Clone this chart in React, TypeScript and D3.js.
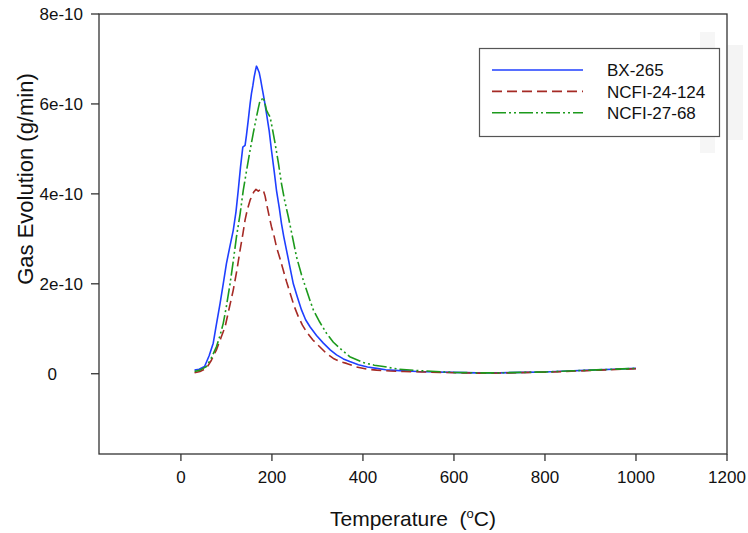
import React from 'react';
import * as d3 from 'd3';

// values are in units of 1e-10 g/min
const UNIT = 1e-10;

const seriesNames = ['BX-265', 'NCFI-24-124', 'NCFI-27-68'];

const bxTemp = [30, 40, 52, 62, 71, 78, 86, 93, 100, 108, 115, 121, 126, 131, 136, 141, 144, 148, 152, 155, 158, 161, 164, 166, 168, 170, 172, 175, 178, 183, 188, 194, 199, 205, 210, 216, 221, 226, 232, 240, 247, 256, 265, 274, 284, 298, 313, 328, 342, 357, 371, 390, 410, 430, 450, 480, 520, 560, 600, 650, 700, 750, 800, 850, 900, 950, 1000];
const bxGas = [0.08, 0.1, 0.16, 0.4, 0.68, 1.1, 1.56, 2.0, 2.45, 2.85, 3.19, 3.6, 4.08, 4.6, 5.04, 5.08, 5.3, 5.64, 6.0, 6.23, 6.4, 6.6, 6.75, 6.84, 6.8, 6.75, 6.7, 6.55, 6.38, 6.1, 5.79, 5.4, 4.97, 4.5, 4.08, 3.7, 3.34, 3.05, 2.75, 2.35, 2.0, 1.7, 1.42, 1.2, 1.04, 0.85, 0.68, 0.53, 0.42, 0.33, 0.27, 0.2, 0.15, 0.12, 0.09, 0.07, 0.05, 0.04, 0.03, 0.02, 0.02, 0.03, 0.04, 0.06, 0.08, 0.1, 0.12];

const n24Temp = [30, 42, 56, 67, 78, 88, 97, 106, 115, 123, 130, 136, 141, 146, 152, 156, 160, 165, 170, 175, 181, 185, 188, 194, 199, 205, 210, 218, 225, 232, 240, 249, 258, 267, 276, 290, 305, 320, 335, 350, 364, 385, 410, 430, 460, 490, 530, 570, 620, 670, 720, 770, 820, 870, 920, 970, 1000];
const n24Gas = [0.02, 0.05, 0.12, 0.3, 0.53, 0.8, 1.04, 1.45, 1.86, 2.3, 2.75, 3.1, 3.42, 3.65, 3.86, 3.95, 4.04, 4.1, 4.06, 4.1, 4.08, 3.95, 3.79, 3.5, 3.27, 3.05, 2.82, 2.55, 2.3, 2.05, 1.79, 1.5, 1.27, 1.08, 0.93, 0.75, 0.6, 0.45, 0.34, 0.27, 0.23, 0.15, 0.1, 0.08, 0.06, 0.05, 0.04, 0.03, 0.02, 0.01, 0.02, 0.03, 0.04, 0.06, 0.08, 0.1, 0.11];

const n27Temp = [30, 42, 56, 67, 78, 86, 93, 100, 108, 115, 122, 130, 137, 144, 152, 159, 166, 170, 174, 178, 181, 185, 188, 192, 196, 201, 207, 214, 221, 228, 236, 245, 254, 265, 276, 284, 291, 305, 320, 335, 350, 371, 400, 425, 445, 480, 520, 560, 600, 650, 700, 750, 800, 850, 900, 950, 1000];
const n27Gas = [0.05, 0.08, 0.16, 0.35, 0.6, 0.85, 1.12, 1.5, 2.0, 2.5, 3.04, 3.55, 4.08, 4.5, 4.97, 5.35, 5.71, 5.9, 6.08, 6.1, 6.15, 6.0, 5.86, 5.78, 5.71, 5.45, 5.12, 4.7, 4.23, 3.85, 3.49, 3.05, 2.6, 2.2, 1.86, 1.62, 1.42, 1.15, 0.9, 0.7, 0.56, 0.38, 0.25, 0.19, 0.16, 0.1, 0.07, 0.05, 0.03, 0.02, 0.02, 0.03, 0.04, 0.06, 0.08, 0.1, 0.12];

const xTicks = [0, 200, 400, 600, 800, 1000, 1200];
const yTicks = [0, 2, 4, 6, 8];
const yTickLabels = ['0', '2e-10', '4e-10', '6e-10', '8e-10'];

const FONT = '"Liberation Sans", Arial, Helvetica, sans-serif';

const App = () => {
  const W = 748;
  const H = 533;
  const left = 99, right = 727, top = 14, bottom = 454;

  const x = d3.scaleLinear().domain([-180, 1200]).range([left, right]);
  const y = d3.scaleLinear().domain([-1.785 * UNIT, 8 * UNIT]).range([bottom, top]);

  const series = [
    { name: seriesNames[0], t: bxTemp, v: bxGas, color: '#1f3fff', dash: null },
    { name: seriesNames[1], t: n24Temp, v: n24Gas, color: '#a52a25', dash: '10,5' },
    { name: seriesNames[2], t: n27Temp, v: n27Gas, color: '#1c9a1c', dash: '14,3,2,3,2,3' },
  ];

  const line = d3.line<[number, number]>()
    .x(d => x(d[0]))
    .y(d => y(d[1] * UNIT));

  const axisColor = '#333';

  return (
    <svg width={W} height={H} style={{ position: 'absolute', left: 0, top: 0, background: '#fff' }}
      fontFamily={FONT}>
      <rect x={0} y={0} width={W} height={H} fill="#fff" />
      {/* faint artefacts next to the legend */}
      <rect x={700} y={32} width={15} height={121} fill="#f6f6f6" />
      <rect x={728} y={45} width={15} height={95} fill="#f4f4f4" />

      {/* frame */}
      <rect x={left} y={top} width={right - left} height={bottom - top} fill="none"
        stroke={axisColor} strokeWidth={1.3} />

      {/* curves */}
      {series.map(s => (
        <path key={s.name}
          d={line(s.t.map((t, i) => [t, s.v[i]] as [number, number])) || ''}
          fill="none" stroke={s.color} strokeWidth={1.6}
          strokeDasharray={s.dash || undefined} strokeLinejoin="round" />
      ))}

      {/* x axis ticks */}
      {xTicks.map(t => (
        <g key={t}>
          <line x1={x(t)} x2={x(t)} y1={bottom} y2={bottom + 7} stroke={axisColor} strokeWidth={1.3} />
          <text x={x(t)} y={bottom + 29} textAnchor="middle" fontSize={17} fill="#111">{t}</text>
        </g>
      ))}

      {/* y axis ticks */}
      {yTicks.map((t, i) => (
        <g key={t}>
          <line x1={left - 8} x2={left} y1={y(t * UNIT)} y2={y(t * UNIT)} stroke={axisColor} strokeWidth={1.3} />
          <text x={t === 0 ? 57 : 83} y={y(t * UNIT)} dy="0.36em" textAnchor="end" fontSize={17} fill="#111">
            {yTickLabels[i]}
          </text>
        </g>
      ))}

      {/* axis titles */}
      <text x={(left + right) / 2} y={526} textAnchor="middle" fontSize={21} fill="#111" xmlSpace="preserve">
        Temperature  (<tspan fontSize={13} dy={-8}>o</tspan><tspan dy={8}>C)</tspan>
      </text>
      <text transform="translate(33,179) rotate(-90)" textAnchor="middle" fontSize={22} fill="#111">
        Gas Evolution (g/min)
      </text>

      {/* legend */}
      <rect x={479.5} y={48.5} width={240} height={88} fill="#fff" stroke="#555" strokeWidth={1.2} />
      {series.map((s, i) => (
        <g key={s.name} transform={`translate(0,${70 + i * 21.4})`}>
          <line x1={492} x2={583} y1={0} y2={0} stroke={s.color} strokeWidth={1.6}
            strokeDasharray={s.dash || undefined} />
          <text x={607} y={0} dy="0.36em" fontSize={17} fill="#111">{s.name}</text>
        </g>
      ))}
    </svg>
  );
};

export default App;
